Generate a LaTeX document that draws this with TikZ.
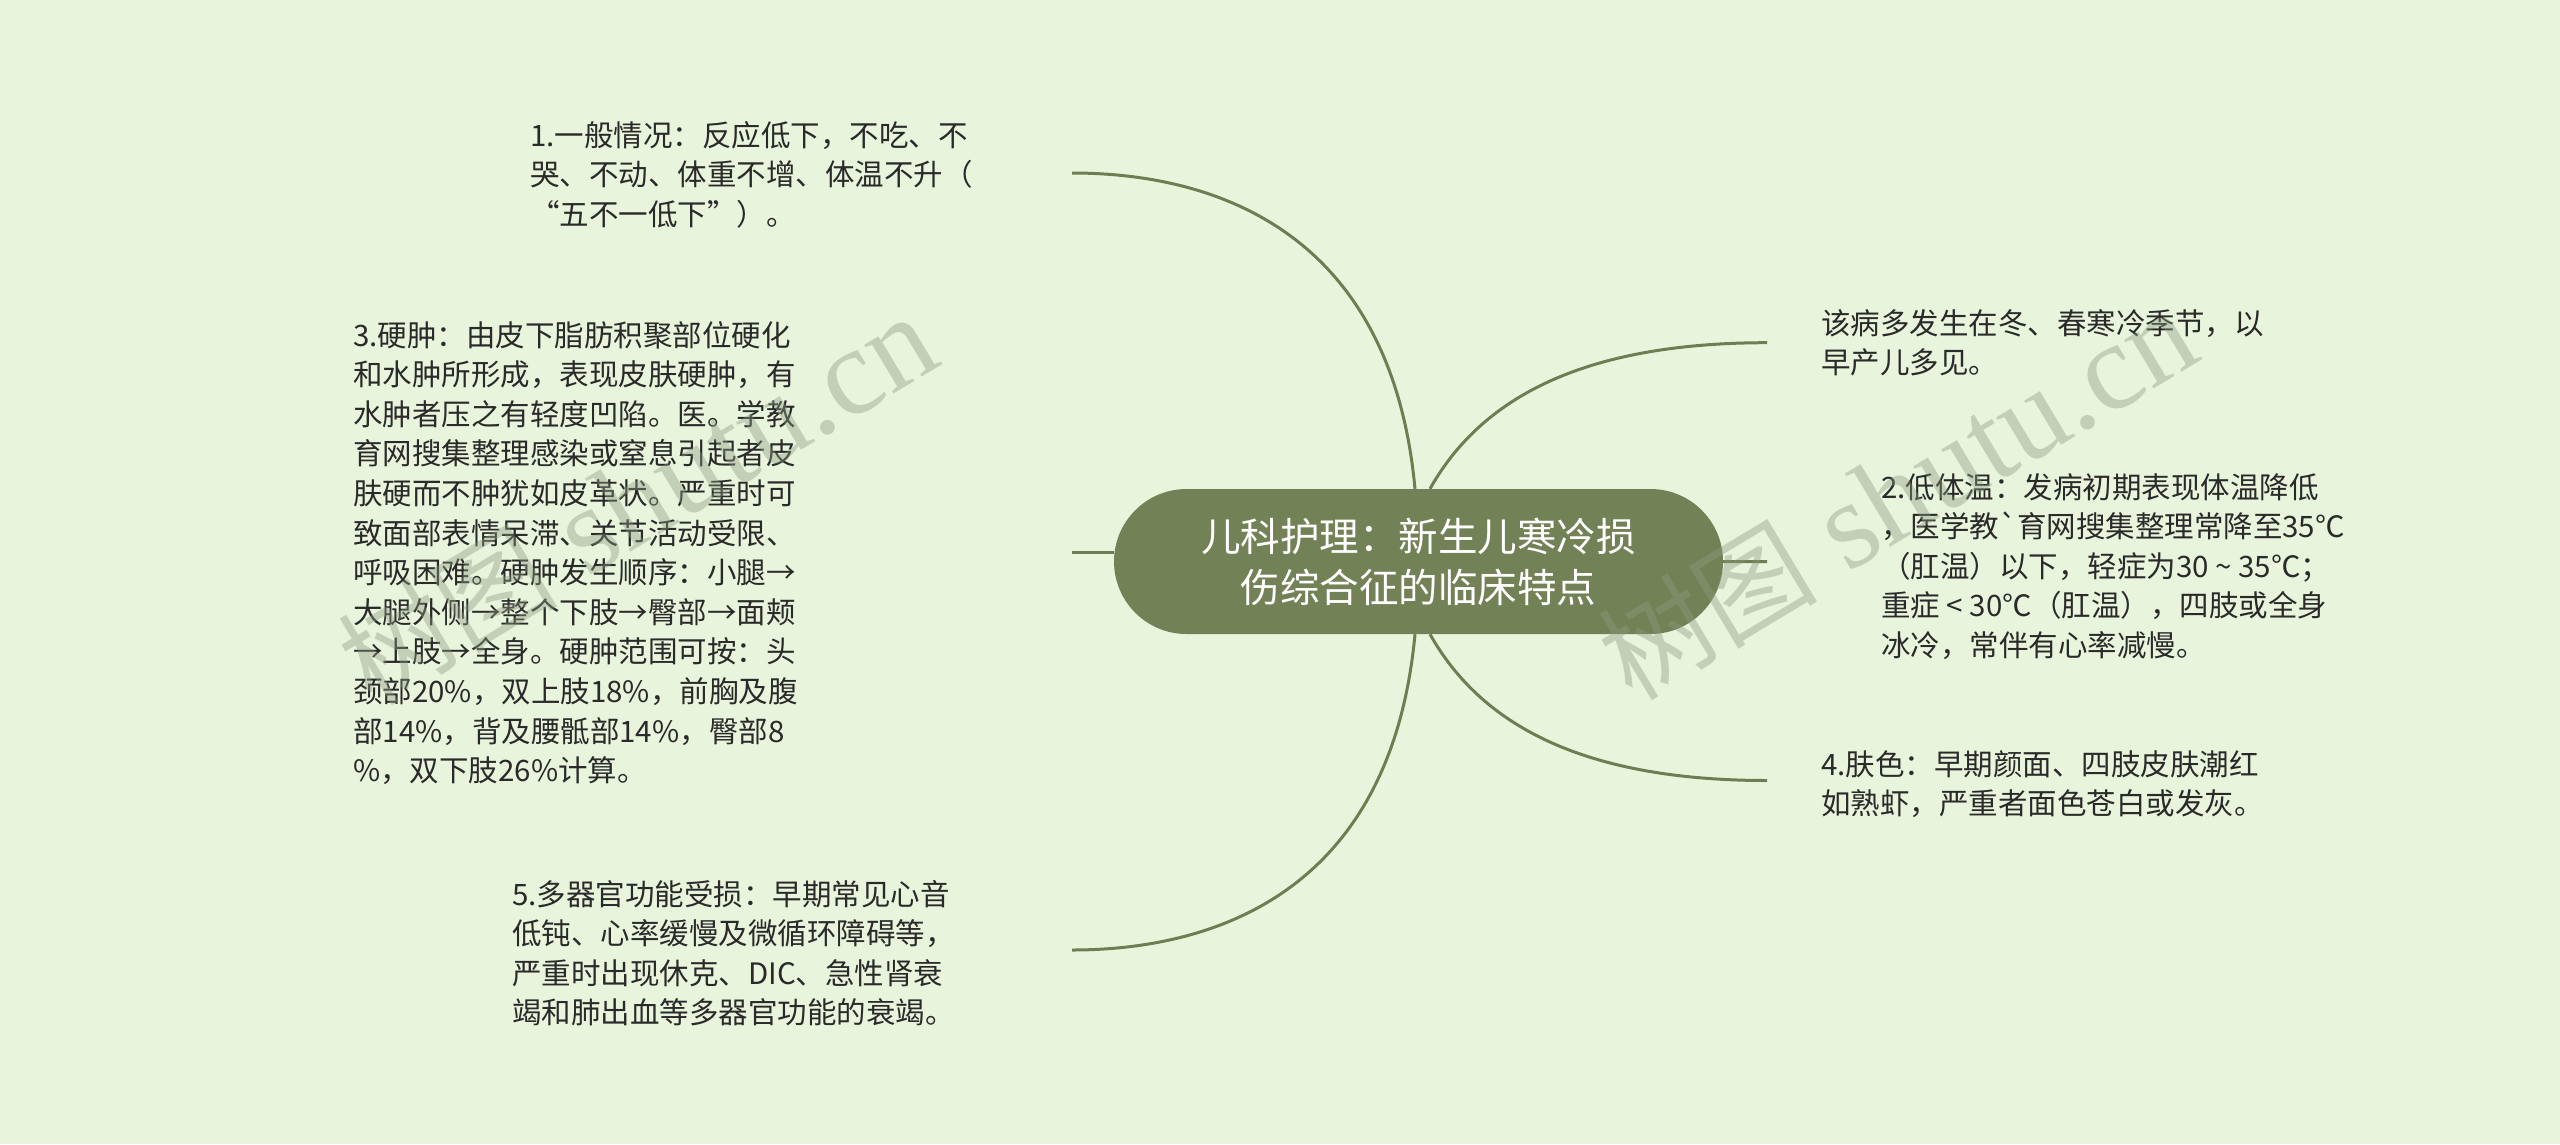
\documentclass[tikz,border=0pt]{standalone}
\usepackage{fontspec}
\setmainfont{Noto Sans CJK SC}[Ligatures=TeXOff]
\newfontfamily\wmserif{Liberation Serif}
\definecolor{bgc}{HTML}{E8F5DC}
\definecolor{rootc}{HTML}{738156}
\definecolor{linec}{HTML}{6F7D52}
\definecolor{txtc}{HTML}{2A2A2A}
\definecolor{wmc}{HTML}{8C9A80}
\tikzset{
  conn/.style={draw=linec, line width=3pt},
  rootbox/.style={fill=rootc, draw=none, rounded corners=72.5pt,
    minimum width=609pt, minimum height=145pt, inner sep=0pt,
    text=white, align=center, font=\fontsize{39.5pt}{51pt}\selectfont},
  txt/.style={text=txtc, inner sep=0pt, anchor=base west,
    font=\fontsize{29.5pt}{39.6pt}\selectfont},
  wmark/.style={text=wmc, opacity=0.4, inner sep=0pt, anchor=base west, rotate=31}
}
\begin{document}
\begin{tikzpicture}[x=1pt, y=-1pt]
\useasboundingbox (0,0) rectangle (2560,1144);
\fill[bgc] (0,0) rectangle (2560,1144);

% central topic
\node[rootbox] (root) at (1418.5,561.5) {儿科护理：新生儿寒冷损\\伤综合征的临床特点};

% connector end points
\coordinate (e1) at (1072,173);
\coordinate (e3) at (1072,552.3);
\coordinate (e5) at (1072,950);
\coordinate (e0) at (1767,342.7);
\coordinate (e2) at (1767,561.7);
\coordinate (e4) at (1767,780.5);

% connectors
\draw[conn] ([xshift=-3.5pt]root.north) .. controls +(-25,-269) and +(128,0) .. (e1);
\draw[conn] ([yshift=9.2pt]root.west) -- (e3);
\draw[conn] ([xshift=-3.5pt]root.south) .. controls +(-25,269) and +(128,0) .. (e5);
\draw[conn] ([xshift=11.5pt]root.north) .. controls +(50,-89) and +(-187,0) .. (e0);
\draw[conn] (root.east) -- (e2);
\draw[conn] ([xshift=11.5pt]root.south) .. controls +(50,89) and +(-187,0) .. (e4);

% left texts
\node[txt] (t1) at (530,146) {\vtop{%
\hbox{1.一般情况：反应低下，不吃、不}%
\hbox{哭、不动、体重不增、体温不升（}%
\hbox{“五不一低下”）。}}};

\node[txt] (t3) at (353,346) {\vtop{%
\hbox{3.硬肿：由皮下脂肪积聚部位硬化}%
\hbox{和水肿所形成，表现皮肤硬肿，有}%
\hbox{水肿者压之有轻度凹陷。医。学教}%
\hbox{育网搜集整理感染或窒息引起者皮}%
\hbox{肤硬而不肿犹如皮革状。严重时可}%
\hbox{致面部表情呆滞、关节活动受限、}%
\hbox{呼吸困难。硬肿发生顺序：小腿→}%
\hbox{大腿外侧→整个下肢→臀部→面颊}%
\hbox{→上肢→全身。硬肿范围可按：头}%
\hbox{颈部20\%，双上肢18\%，前胸及腹}%
\hbox{部14\%，背及腰骶部14\%，臀部8}%
\hbox{\%，双下肢26\%计算。}}};

\node[txt] (t5) at (512,905) {\vtop{%
\hbox{5.多器官功能受损：早期常见心音}%
\hbox{低钝、心率缓慢及微循环障碍等，}%
\hbox{严重时出现休克、DIC、急性肾衰}%
\hbox{竭和肺出血等多器官功能的衰竭。}}};

% right texts
\node[txt] (t0) at (1821,334) {\vtop{%
\hbox{该病多发生在冬、春寒冷季节，以}%
\hbox{早产儿多见。}}};

\node[txt] (t2) at (1881,498) {\vtop{%
\hbox{2.低体温：发病初期表现体温降低}%
\hbox{，医学教`育网搜集整理常降至35℃}%
\hbox{（肛温）以下，轻症为30 \textasciitilde{} 35℃；}%
\hbox{重症 < 30℃（肛温），四肢或全身}%
\hbox{冰冷，常伴有心率减慢。}}};

\node[txt] (t4) at (1821,775) {\vtop{%
\hbox{4.肤色：早期颜面、四肢皮肤潮红}%
\hbox{如熟虾，严重者面色苍白或发灰。}}};

% watermarks
\node[wmark] (wm1) at (1632,703) {{\fontsize{110pt}{110pt}\selectfont 树图}{\wmserif\fontsize{124pt}{124pt}\selectfont\ shutu.cn}};
\node[wmark] (wm2) at (372,708) {{\fontsize{110pt}{110pt}\selectfont 树图}{\wmserif\fontsize{124pt}{124pt}\selectfont\ shutu.cn}};
\end{tikzpicture}
\end{document}
